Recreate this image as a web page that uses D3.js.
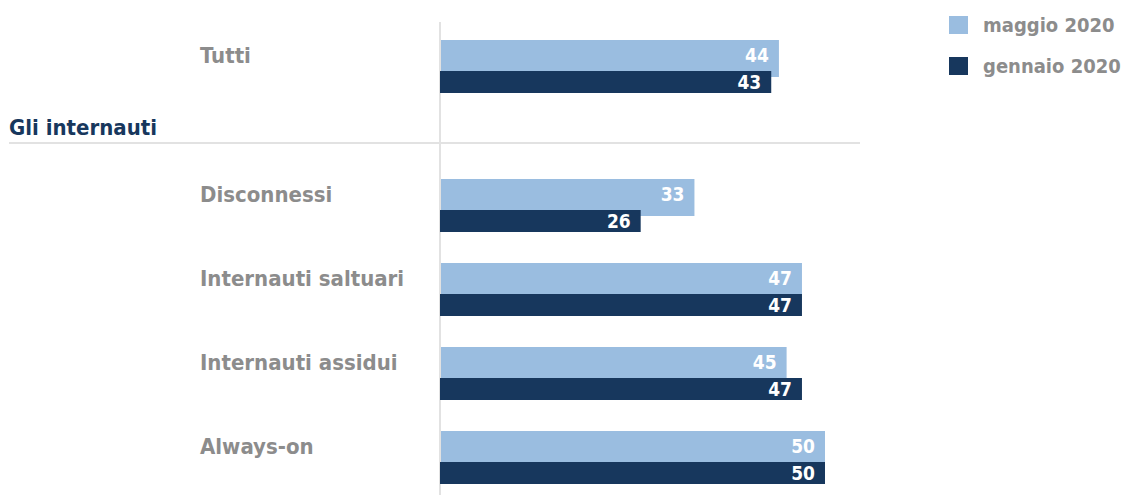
<!DOCTYPE html>
<html>
<head>
<meta charset="utf-8">
<script src="https://cdn.jsdelivr.net/npm/d3@7"></script>
<style>
  body { margin: 0; background: #fff; }
  svg text { font-family: "DejaVu Sans Condensed", "DejaVu Sans", sans-serif; font-weight: bold; }
</style>
</head>
<body>
<svg width="1128" height="495"></svg>
<script>
// data
var seriesNames = ["maggio 2020", "gennaio 2020"];
var totalCategory = ["Tutti"];
var totalMaggio = [44];
var totalGennaio = [43];
var groupTitle = "Gli internauti";
var categories = ["Disconnessi", "Internauti saltuari", "Internauti assidui", "Always-on"];
var maggio = [33, 47, 45, 50];
var gennaio = [26, 47, 47, 50];

var colors = ["#9abde0", "#17375d"];
var labelGrey = "#8c8c8c";

var svg = d3.select("svg");

// scales
var x = d3.scaleLinear().domain([0, 50]).range([441, 825]);
var yTop = d3.scaleBand().domain(totalCategory).range([40, 124]);
var y = d3.scaleBand().domain(categories).range([179, 515]);

var lightH = 37, darkOff = 31, darkH = 22;

// axis line + separator
svg.append("line")
    .attr("x1", 440).attr("x2", 440)
    .attr("y1", 22).attr("y2", 495)
    .attr("stroke", "#e2e2e2").attr("stroke-width", 2);
svg.append("line")
    .attr("x1", 9).attr("x2", 860)
    .attr("y1", 143).attr("y2", 143)
    .attr("stroke", "#e2e2e2").attr("stroke-width", 2);

svg.append("text")
    .attr("x", 9).attr("y", 135)
    .attr("fill", "#17375d")
    .style("font-size", "22px")
    .text(groupTitle);

function drawGroup(cats, vA, vB, yScale)
{
    var rows = cats.map(function(c, i) { return {cat: c, a: vA[i], b: vB[i]}; });
    var g = svg.append("g").selectAll(".row")
        .data(rows)
        .enter().append("g")
            .attr("class", "row")
            .attr("transform", function(d) { return "translate(0," + yScale(d.cat) + ")"; });

    g.append("text")
        .attr("x", 200).attr("y", 23)
        .attr("fill", labelGrey)
        .style("font-size", "22px")
        .text(function(d) { return d.cat; });

    g.append("rect")
        .attr("x", x(0)).attr("y", 0)
        .attr("width", function(d) { return x(d.a) - x(0); })
        .attr("height", lightH)
        .attr("fill", colors[0]);

    g.append("rect")
        .attr("x", x(0) - 1).attr("y", darkOff)
        .attr("width", function(d) { return x(d.b) - x(0) + 1; })
        .attr("height", darkH)
        .attr("fill", colors[1]);

    // value labels, inside bar ends
    g.append("text")
        .attr("x", function(d) { return x(d.a) - 10; })
        .attr("y", 22)
        .attr("text-anchor", "end")
        .attr("fill", "#fff")
        .style("font-size", "19px")
        .text(function(d) { return d.a; });

    g.append("text")
        .attr("x", function(d) { return x(d.b) - 10; })
        .attr("y", darkOff + 18)
        .attr("text-anchor", "end")
        .attr("fill", "#fff")
        .style("font-size", "19px")
        .text(function(d) { return d.b; });
}

drawGroup(totalCategory, totalMaggio, totalGennaio, yTop);
drawGroup(categories, maggio, gennaio, y);

// legend
var legend = svg.append("g").selectAll(".leg")
    .data(seriesNames)
    .enter().append("g")
        .attr("class", "leg")
        .attr("transform", function(d, i) { return "translate(949," + (16 + i * 41) + ")"; });
legend.append("rect")
    .attr("width", 19).attr("height", 18)
    .attr("fill", function(d, i) { return colors[i]; });
legend.append("text")
    .attr("x", 34).attr("y", 16)
    .attr("fill", labelGrey)
    .style("font-size", "20px")
    .text(function(d) { return d; });
</script>
</body>
</html>
